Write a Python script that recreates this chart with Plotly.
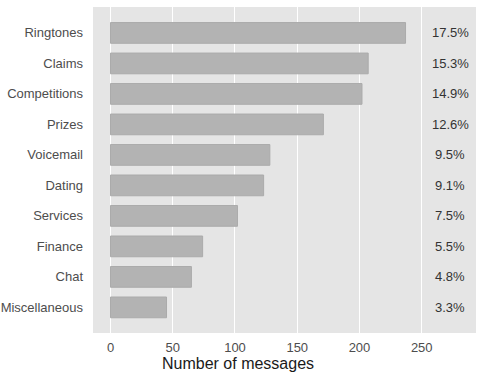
import plotly.graph_objects as go

categories = ["Ringtones", "Claims", "Competitions", "Prizes", "Voicemail",
              "Dating", "Services", "Finance", "Chat", "Miscellaneous"]
counts = [237, 207, 202, 171, 128, 123, 102, 74, 65, 45]
pct_labels = ["17.5%", "15.3%", "14.9%", "12.6%", "9.5%",
              "9.1%", "7.5%", "5.5%", "4.8%", "3.3%"]
x_ticks = [0, 50, 100, 150, 200, 250]

FONT = "Liberation Sans, Arial, sans-serif"

fig = go.Figure()
fig.add_trace(go.Bar(
    x=counts, y=categories, orientation="h", width=0.68,
    marker=dict(color="#B3B3B3", line=dict(color="#ABABAB", width=1)),
    hoverinfo="x+y", showlegend=False,
))

for cat, lab in zip(categories, pct_labels):
    fig.add_annotation(x=273, y=cat, xref="x", yref="y", text=lab,
                       showarrow=False, xanchor="center",
                       font=dict(family=FONT, size=13, color="#333333"))

fig.add_annotation(x=102.5, y=-0.095, xref="x", yref="paper",
                   text="Number of messages", showarrow=False,
                   xanchor="center", yanchor="middle",
                   font=dict(family=FONT, size=16, color="#1A1A1A"))

fig.update_layout(
    width=478, height=372,
    margin=dict(l=93, r=2, t=7, b=39),
    paper_bgcolor="white", plot_bgcolor="#E5E5E5",
    font=dict(family=FONT, size=13, color="#4D4D4D"),
    bargap=0.3,
)
fig.update_xaxes(range=[-14.06, 293.6], tickvals=x_ticks,
                 ticktext=[str(v) for v in x_ticks],
                 showgrid=True, gridcolor="white", gridwidth=1.3,
                 zeroline=False, showline=False, ticks="",
                 ticklabelstandoff=5,
                 tickfont=dict(family=FONT, size=13, color="#4D4D4D"))
fig.update_yaxes(categoryorder="array", categoryarray=categories,
                 range=[9.84, -0.85], showgrid=False, zeroline=False,
                 showline=False, ticks="", ticklabelstandoff=9,
                 tickfont=dict(family=FONT, size=13, color="#4D4D4D"))

fig.write_html("out.html")
